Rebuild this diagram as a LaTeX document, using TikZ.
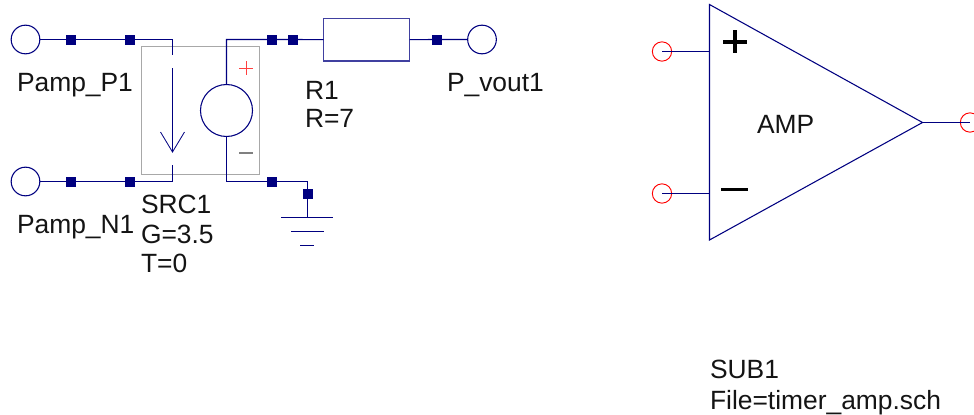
\documentclass[tikz,border=0pt]{standalone}
\usepackage{fontspec}
\setmainfont{Liberation Sans}
\definecolor{wire}{HTML}{000080}
\definecolor{boxgrey}{HTML}{A8A8A8}
\tikzset{
  wireline/.style={draw=wire,line width=.8pt},
  portc/.style={circle,draw=wire,line width=.8pt,fill=white,minimum size=21.5pt,inner sep=0pt,outer sep=0pt},
  pin/.style={circle,draw=red,line width=.7pt,minimum size=14.5pt,inner sep=0pt,outer sep=0pt},
  dot/.style={rectangle,fill=wire,minimum size=7.5pt,inner sep=0pt,outer sep=0pt},
  lbl/.style={anchor=base west,inner sep=0pt,outer sep=0pt,font=\fontsize{19.8}{23}\selectfont,text=black!92},
}
\begin{document}
\begin{tikzpicture}[x=.75pt,y=-.75pt]
\useasboundingbox (0,0) rectangle (974,414);
\clip (0,0) rectangle (974,414);
% grey source box
\draw[boxgrey,line width=1.1pt] (141.5,46.5) rectangle (259.5,174.5);
% ports
\node[portc] (pP) at (25.5,39.5) {};
\node[portc] (pN) at (25.5,181.5) {};
\node[portc] (pV) at (482,39.5) {};
% source
\node[circle,draw=wire,line width=.8pt,minimum size=39pt,inner sep=0pt,outer sep=0pt] (vs) at (226.5,110.5) {};
% resistor
\node[rectangle,draw=wire!75,line width=1.1pt,minimum width=64.5pt,minimum height=32pt,inner sep=0pt,outer sep=0pt] (r1) at (366.5,39.75) {};
% junction squares
\node[dot] (d1) at (71,39.5) {};
\node[dot] (d2) at (130,39.5) {};
\node[dot] (d3) at (71,181.5) {};
\node[dot] (d4) at (130,181.5) {};
\node[dot] (d5) at (272,39.5) {};
\node[dot] (d6) at (293,39.5) {};
\node[dot] (d7) at (272,181.5) {};
\node[dot] (d8) at (307.5,194) {};
\node[dot] (d9) at (437,39.5) {};
% free coordinates
\coordinate (a1) at (172.5,39.5);
\coordinate (a2) at (172.5,55);
\coordinate (a3) at (172.5,68);
\coordinate (a4) at (172.5,152);
\coordinate (a5) at (172.5,165);
\coordinate (a6) at (172.5,181.5);
\coordinate (b1) at (226.5,39.5);
\coordinate (b2) at (226.5,181.5);
\coordinate (b3) at (307.5,181.5);
\coordinate (g1) at (307.5,217.5);
% wires
\draw[wireline] (pP) -- (d1) -- (d2) -- (a1) -- (a2);
\draw[wireline] (a3) -- (a4);
\draw[wireline,line width=.6pt] (160.5,132) -- (a4) -- (184.5,132);
\draw[wireline] (pN) -- (d3) -- (d4) -- (a6) -- (a5);
\draw[wireline] (vs) -- (b1) -- (d5) -- (d6) -- (r1);
\draw[wireline] (vs) -- (b2) -- (d7) -- (b3) -- (d8) -- (g1);
\draw[wireline] (r1) -- (d9) -- (pV);
% ground
\draw[wireline] (281,217.5) -- (333,217.5);
\draw[wireline] (291,231.5) -- (324,231.5);
\draw[wireline] (300,245.5) -- (314,245.5);
% polarity marks
\draw[red!75,line width=.6pt] (239,68.5) -- (253,68.5) (246.5,61) -- (246.5,75);
\draw[gray,line width=1pt] (239,153) -- (253,153);
% amplifier
\coordinate (t1) at (709.5,4.5);
\coordinate (t2) at (709.5,240);
\coordinate (t3) at (922.5,122.5);
\draw[wireline,line join=miter] (t1) -- (t3) -- (t2) -- cycle;
\node[pin] (q1) at (662,51.5) {};
\node[pin] (q2) at (662,193.5) {};
\node[pin] (q3) at (970,122.5) {};
\draw[wireline] (q1.center) -- (709.5,51.5);
\draw[wireline] (q2.center) -- (709.5,193.5);
\draw[wireline] (t3) -- (q3.center);
\draw[black,line width=3pt] (723,41.5) -- (747,41.5) (735,30) -- (735,53);
\draw[black,line width=2.4pt] (721,189.5) -- (748,189.5);
% labels
\node[lbl] (tP) at (17,91) {Pamp\_P1};
\node[lbl] (tN) at (17,233) {Pamp\_N1};
\node[lbl] (tS) at (141,213) {SRC1};
\node[lbl] (tG) at (141,243) {G=3.5};
\node[lbl] (tT) at (141,272) {T=0};
\node[lbl] (tR) at (305,99) {R1};
\node[lbl] (tRv) at (305,127) {R=7};
\node[lbl] (tV) at (447,91) {P\_vout1};
\node[lbl] (tA) at (757,133) {AMP};
\node[lbl] (tB) at (710,378) {SUB1};
\node[lbl] (tF) at (710,409) {File=timer\_amp.sch};
\end{tikzpicture}
\end{document}
